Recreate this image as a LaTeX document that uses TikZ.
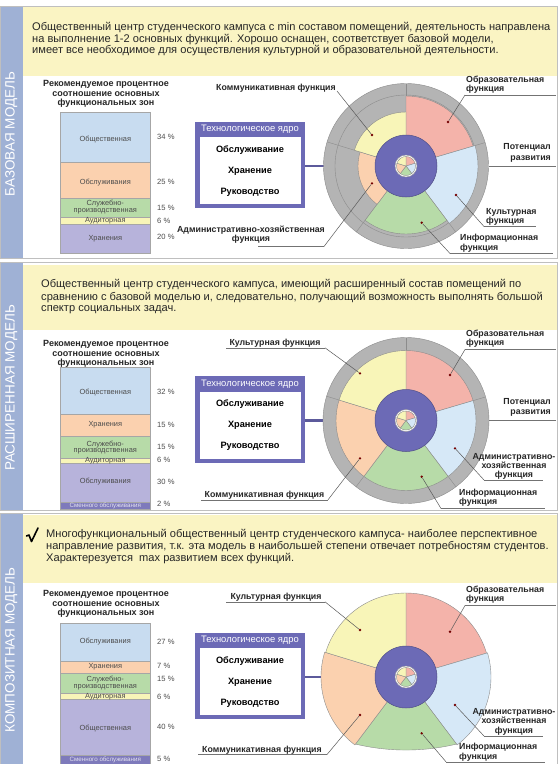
\documentclass[tikz,border=0pt]{standalone}
\usepackage{fontspec}
\setmainfont{Liberation Sans}
\definecolor{cpink}{HTML}{F4B3AA}
\definecolor{cblue}{HTML}{D6E8F7}
\definecolor{cgreen}{HTML}{B7DBA8}
\definecolor{cyellow}{HTML}{F8F5B8}
\definecolor{corange}{HTML}{FBD1AF}
\definecolor{cpurple}{HTML}{6C6AB6}
\definecolor{clav}{HTML}{B7B3DB}
\definecolor{cdark}{HTML}{7E7ABB}
\definecolor{cstrip}{HTML}{9FB1D5}
\definecolor{chead}{HTML}{FAF4C3}
\definecolor{cgrey}{HTML}{B4B4B4}
\definecolor{cbarblue}{HTML}{C8DCF0}
\tikzset{
 hdr/.style={anchor=west, font=\fontsize{11.1}{12}\selectfont, text=black!85, inner sep=0pt},
 striptext/.style={rotate=90, font=\fontsize{13.5}{14}\selectfont, text=white, inner sep=0pt},
 ttl/.style={align=center, font=\bfseries\fontsize{9}{9.2}\selectfont, text=black!85, inner sep=0pt},
 seg/.style={draw=black!35, line width=0.4pt},
 seglab/.style={align=center, font=\fontsize{7.4}{6.8}\selectfont, text=black!70, inner sep=0pt},
 pct/.style={anchor=west, font=\fontsize{7.6}{8}\selectfont, text=black!70, inner sep=0pt},
 flab/.style={font=\bfseries\fontsize{8.8}{9.6}\selectfont, text=black!85, inner sep=0pt},
 corehd/.style={font=\fontsize{9.4}{9.5}\selectfont, text=white, inner sep=0pt},
 coretx/.style={font=\bfseries\fontsize{9.2}{10}\selectfont, inner sep=0pt},
 lead/.style={draw=black!65, line width=0.5pt},
 uline/.style={draw=black!55, line width=0.6pt},
 sline/.style={draw=black!45, line width=0.4pt},
 fdot/.style={circle, fill=red!45!black, inner sep=0pt, minimum size=2.6pt},
 framel/.style={draw=black!25, line width=0.8pt},
 coreline/.style={draw=cpurple!85!black, line width=2.4pt},
}
\newcommand\wsector[4]{\filldraw[fill=#1,sline] (0,0) -- (#2:#4) arc[start angle=#2,end angle=#3,radius=#4] -- cycle;}
\newcommand\wheelcore{%
 \filldraw[fill=cpurple,draw=cpurple!75!black,line width=0.5pt] (0,0) circle[radius=31];
 \filldraw[fill=white,draw=black!40,line width=0.4pt] (0,0) circle[radius=11];
 \wsector{cpink}{16.5}{90}{9.5}\wsector{cblue}{-53}{16.5}{9.5}\wsector{cgreen}{-127}{-53}{9.5}%
 \wsector{corange}{163}{233}{9.5}\wsector{cyellow}{90}{163}{9.5}}
\newcommand\bseg[3]{\filldraw[fill=#1,seg] (60.5,#2) rectangle (150,#3);}
\begin{document}
\begin{tikzpicture}[x=1pt,y=-1pt]
\useasboundingbox (0,0) rectangle (558,764);
\fill[white] (0,0) rectangle (558,764);
% ---------- panel frames
\foreach \t/\b/\ht/\hb in {6.5/258/7/76, 262.5/510.5/264.5/330, 513/766/515/583} {
  \fill[cstrip] (0,\t) rectangle (22.5,\b);
  \fill[chead] (22.5,\ht) rectangle (558,\hb);
  \draw[framel] (0,\t) rectangle (557.6,\b);
}
\node[striptext] (s1) at (11.3,134) {БАЗОВАЯ МОДЕЛЬ};
\node[striptext] (s2) at (11.3,388) {РАСШИРЕННАЯ МОДЕЛЬ};
\node[striptext] (s3) at (11.3,650) {КОМПОЗИТНАЯ МОДЕЛЬ};
% ---------- header texts
\node[hdr] (h11) at (32,28) {Общественный центр студенческого кампуса с min составом помещений, деятельность направлена};
\node[hdr] (h12) at (32,39.5) {на выполнение 1-2 основных функций. Хорошо оснащен, соответствует базовой модели,};
\node[hdr] (h13) at (32,51) {имеет все необходимое для осуществления культурной и образовательной деятельности.};
\node[hdr] (h21) at (41,285) {Общественный центр студенческого кампуса, имеющий расширенный состав помещений по};
\node[hdr] (h22) at (41,297.5) {сравнению с базовой моделью и, следовательно, получающий возможность выполнять большой};
\node[hdr] (h23) at (41,310) {спектр социальных задач.};
\draw[line width=1.6pt, line cap=round, line join=round] (26.5,536) -- (29,535) -- (31.5,541.5) -- (38,528);
\node[hdr] (h31) at (46,535) {Многофункциональный общественный центр студенческого кампуса- наиболее перспективное};
\node[hdr] (h32) at (46,547) {направление развития, т.к. эта модель в наибольшей степени отвечает потребностям студентов.};
\node[hdr] (h33) at (46,559) {Характерезуется\ \ max развитием всех функций.};
% ---------- bar charts
\node[ttl] (t1) at (106,94) {Рекомендуемое процентное\\соотношение основных\\функциональных зон};
\bseg{cbarblue}{111.7}{162.3}\bseg{corange}{162.3}{198.3}\bseg{cgreen}{198.3}{217.3}\bseg{cyellow}{217.3}{224}\bseg{clav}{224}{253.3}
\node[seglab] (b11) at (105.3,140) {Общественная};
\node[seglab] (b12) at (105.3,182.7) {Обслуживания};
\node[seglab] (b13) at (105.3,207) {Служебно-\\производственная};
\node[seglab] (b14) at (105.3,220.7) {Аудиторная};
\node[seglab] (b15) at (105.3,238.3) {Хранения};
\node[pct] (p11) at (157,137) {34 \%};
\node[pct] (p12) at (157,181.7) {25 \%};
\node[pct] (p13) at (157,208) {15 \%};
\node[pct] (p14) at (157,220.5) {6 \%};
\node[pct] (p15) at (157,237) {20 \%};
%
\node[ttl] (t2) at (106,354) {Рекомендуемое процентное\\соотношение основных\\функциональных зон};
\bseg{cbarblue}{367.3}{414}\bseg{corange}{414}{436}\bseg{cgreen}{436}{457.7}\bseg{cyellow}{457.7}{463.3}\bseg{clav}{463.3}{501.7}\bseg{cdark}{501.7}{509.3}
\node[seglab] (b21) at (105.3,392.3) {Общественная};
\node[seglab] (b22) at (105.3,425) {Хранения};
\node[seglab] (b23) at (105.3,447.5) {Служебно-\\производственная};
\node[seglab] (b24) at (105.3,460.7) {Аудиторная};
\node[seglab] (b25) at (105.3,481.7) {Обслуживания};
\node[seglab,text=white!80!cdark,font=\fontsize{6.2}{6.5}\selectfont] (b26) at (105.3,505.5) {Сменного обслуживания};
\node[pct] (p21) at (157,392.3) {32 \%};
\node[pct] (p22) at (157,425) {15 \%};
\node[pct] (p23) at (157,446.7) {15 \%};
\node[pct] (p24) at (157,460) {6 \%};
\node[pct] (p25) at (157,481.7) {30 \%};
\node[pct] (p26) at (157,504.3) {2 \%};
%
\node[ttl] (t3) at (106,604) {Рекомендуемое процентное\\соотношение основных\\функциональных зон};
\bseg{cbarblue}{623.3}{661}\bseg{corange}{661}{672.7}\bseg{cgreen}{672.7}{693.3}\bseg{cyellow}{693.3}{699.3}\bseg{clav}{699.3}{755.5}\bseg{cdark}{755.5}{768}
\node[seglab] (b31) at (105.3,641.7) {Обслуживания};
\node[seglab] (b32) at (105.3,666.5) {Хранения};
\node[seglab] (b33) at (105.3,683) {Служебно-\\производственная};
\node[seglab] (b34) at (105.3,696.5) {Аудиторная};
\node[seglab] (b35) at (105.3,729) {Общественная};
\node[seglab,text=white!80!cdark,font=\fontsize{6.2}{6.5}\selectfont] (b36) at (105.3,759.8) {Сменного обслуживания};
\node[pct] (p31) at (157,641.7) {27 \%};
\node[pct] (p32) at (157,666) {7 \%};
\node[pct] (p33) at (157,679) {15 \%};
\node[pct] (p34) at (157,696.7) {6 \%};
\node[pct] (p35) at (157,726.7) {40 \%};
\node[pct] (p36) at (157,759) {5 \%};
% ---------- technological core boxes
\foreach \dy/\i in {0/1,254.5/2,511/3} {
  \fill[cpurple] (195,121.7+\dy) rectangle (305,208.3+\dy);
  \fill[white] (199.5,137+\dy) rectangle (300.5,204+\dy);
  \node[corehd] (ch\i) at (250,129.5+\dy) {Технологическое ядро};
  \node[coretx] (c\i a) at (250,150+\dy) {Обслуживание};
  \node[coretx] (c\i b) at (250,171+\dy) {Хранение};
  \node[coretx] (c\i c) at (250,192+\dy) {Руководство};
  \coordinate (bx\i) at (305,166+\dy);
  \coordinate (rg\i) at (376,166+\dy);
  \draw[coreline] (bx\i) -- (rg\i);
}
% ---------- wheel 1
\begin{scope}[shift={(406,166)},yscale=-1]
 \filldraw[fill=cgrey,sline] (0,0) circle[radius=82.5];
 \draw[sline] (0,0) circle[radius=71];
 \foreach \a in {90,16.5,-53,-127,163} \draw[sline] (0,0) -- (\a:82.5);
 \wsector{cpink}{16.5}{90}{70}
 \wsector{cblue}{-53}{16.5}{72}
 \wsector{cgreen}{-127}{-53}{68}
 \wsector{corange}{163}{233}{48}
 \wsector{cyellow}{90}{163}{54}
 \wheelcore
\end{scope}
% ---------- wheel 2
\begin{scope}[shift={(406,420.5)},yscale=-1]
 \filldraw[fill=cgrey,sline] (0,0) circle[radius=83];
 \foreach \a in {90,16.5,-53,-127,163} \draw[sline] (0,0) -- (\a:83);
 \wsector{cpink}{16.5}{90}{70}
 \wsector{cblue}{-53}{16.5}{70}
 \wsector{cgreen}{-127}{-53}{70}
 \wsector{corange}{163}{233}{70}
 \wsector{cyellow}{90}{163}{70}
 \wheelcore
\end{scope}
% ---------- wheel 3
\begin{scope}[shift={(406,677)},yscale=-1]
 \wsector{cpink}{16.5}{90}{84}
 \wsector{cblue}{-53}{16.5}{85}
 \filldraw[fill=cgreen,sline] (0,0) -- (-127:84) .. controls (-16.8,-75) and (16.8,-75) .. (-53:84) -- cycle;
 \wsector{corange}{163}{233}{85}
 \wsector{cyellow}{90}{163}{84}
 \wheelcore
\end{scope}
% ---------- panel 1 labels
\node[fdot] (dp1) at (448,122) {};
\node[fdot] (db1) at (456,195) {};
\node[fdot] (dg1) at (421.7,222.7) {};
\node[fdot] (do1) at (372,183.3) {};
\node[fdot] (dy1) at (372,135) {};
\node[flab] (k1) at (276,88.5) {Коммуникативная функция};
\coordinate (k1e) at (337,91);
\draw[lead] (k1e) -- (dy1);
\node[flab,align=center,font=\bfseries\fontsize{8.8}{8.8}\selectfont] (a1) at (251,234.3) {Административно-хозяйственная\\функция};
\coordinate (a1s) at (258,246.5); \coordinate (a1e) at (324,246.5);
\draw[uline] (a1s) -- (a1e); \draw[lead] (a1e) -- (do1);
\node[flab,align=left,anchor=west,font=\bfseries\fontsize{8.8}{8.8}\selectfont] (o1) at (466,84.3) {Образовательная\\функция};
\coordinate (o1s) at (465,95); \coordinate (o1e) at (556,95);
\draw[uline] (o1s) -- (o1e); \draw[lead] (o1s) -- (dp1);
\node[flab,align=right,anchor=east,font=\bfseries\fontsize{8.8}{10.5}\selectfont] (pt1) at (551,153) {Потенциал\\развития};
\coordinate (pt1s) at (488.5,166); \coordinate (pt1e) at (556,166);
\draw[uline] (pt1s) -- (pt1e);
\node[flab,align=left,anchor=west] (ku1) at (486,216.7) {Культурная\\функция};
\coordinate (ku1s) at (484,226.5); \coordinate (ku1e) at (536,226.5);
\draw[uline] (ku1s) -- (ku1e); \draw[lead] (db1) -- (ku1s);
\node[flab,align=left,anchor=west] (in1) at (460,243.3) {Информационная\\функция};
\coordinate (in1s) at (450,253.5); \coordinate (in1e) at (553,253.5);
\draw[uline] (in1s) -- (in1e); \draw[lead] (dg1) -- (in1s);
% ---------- panel 2 labels
\node[fdot] (dp2) at (450,375) {};
\node[fdot] (db2) at (455,448.3) {};
\node[fdot] (dg2) at (421.7,476.7) {};
\node[fdot] (do2) at (360,458.3) {};
\node[fdot] (dy2) at (360,373.3) {};
\node[flab] (ku2) at (275,343) {Культурная функция};
\coordinate (ku2s) at (226,347.8); \coordinate (ku2e) at (325,347.8);
\draw[uline] (ku2s) -- (ku2e); \draw[lead] (ku2e) -- (dy2);
\node[flab] (k2) at (264.5,495) {Коммуникативная функция};
\coordinate (k2s) at (201,499.8); \coordinate (k2e) at (328,499.8);
\draw[uline] (k2s) -- (k2e); \draw[lead] (k2e) -- (do2);
\node[flab,align=left,anchor=west,font=\bfseries\fontsize{8.8}{8.8}\selectfont] (o2) at (466,338.8) {Образовательная\\функция};
\coordinate (o2s) at (465,349.5); \coordinate (o2e) at (556,349.5);
\draw[uline] (o2s) -- (o2e); \draw[lead] (o2s) -- (dp2);
\node[flab,align=right,anchor=east,font=\bfseries\fontsize{8.8}{10.5}\selectfont] (pt2) at (551,407.5) {Потенциал\\развития};
\coordinate (pt2s) at (489,420.5); \coordinate (pt2e) at (556,420.5);
\draw[uline] (pt2s) -- (pt2e);
\node[flab,align=center,font=\bfseries\fontsize{8.8}{9}\selectfont] (a2) at (514,466) {Административно-\\хозяйственная\\функция};
\coordinate (a2s) at (484,480); \coordinate (a2e) at (543,480);
\draw[uline] (a2s) -- (a2e); \draw[lead] (db2) -- (a2s);
\node[flab,align=left,anchor=west,font=\bfseries\fontsize{8.8}{9.2}\selectfont] (in2) at (459,498) {Информационная\\функция};
\coordinate (in2s) at (441,508.5); \coordinate (in2e) at (545,508.5);
\draw[uline] (in2s) -- (in2e); \draw[lead] (dg2) -- (in2s);
% ---------- panel 3 labels
\node[fdot] (dp3) at (450,631.7) {};
\node[fdot] (db3) at (455,705) {};
\node[fdot] (dg3) at (421.7,733.3) {};
\node[fdot] (do3) at (360,715) {};
\node[fdot] (dy3) at (360,630) {};
\node[flab] (ku3) at (276,597) {Культурная функция};
\coordinate (ku3s) at (226,601.8); \coordinate (ku3e) at (325,601.8);
\draw[uline] (ku3s) -- (ku3e); \draw[lead] (ku3e) -- (dy3);
\node[flab,align=left,anchor=west,font=\bfseries\fontsize{8.8}{8.8}\selectfont] (o3) at (466,594.8) {Образовательная\\функция};
\coordinate (o3s) at (465,605.5); \coordinate (o3e) at (556,605.5);
\draw[uline] (o3s) -- (o3e); \draw[lead] (o3s) -- (dp3);
\node[flab,align=center,font=\bfseries\fontsize{8.8}{9.4}\selectfont] (a3) at (514,721.7) {Административно-\\хозяйственная\\функция};
\coordinate (a3s) at (484,736); \coordinate (a3e) at (543,736);
\draw[uline] (a3s) -- (a3e); \draw[lead] (db3) -- (a3s);
\node[flab,align=left,anchor=west,font=\bfseries\fontsize{8.8}{9.4}\selectfont] (in3) at (459,752.3) {Информационная\\функция};
\coordinate (in3s) at (446,761.8); \coordinate (in3e) at (545,761.8);
\draw[uline] (in3s) -- (in3e); \draw[lead] (dg3) -- (in3s);
\node[flab] (k3) at (262,750) {Коммуникативная функция};
\coordinate (k3s) at (198,754.5); \coordinate (k3e) at (327,754.5);
\draw[uline] (k3s) -- (k3e); \draw[lead] (k3e) -- (do3);
\end{tikzpicture}
\end{document}
